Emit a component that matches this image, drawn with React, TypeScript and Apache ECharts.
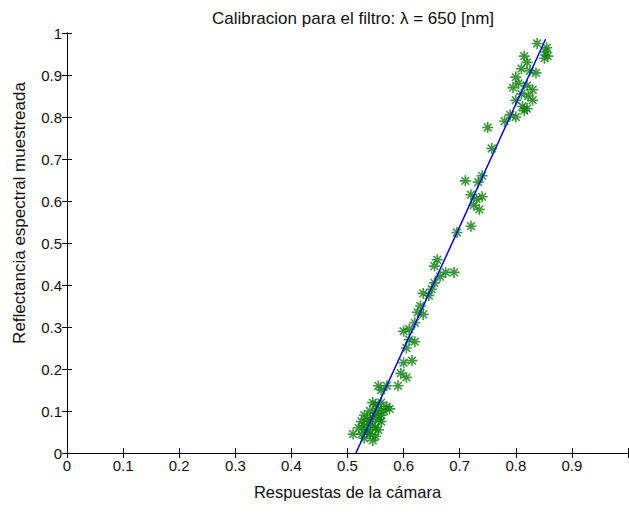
import React, { useEffect, useRef } from "react";
import * as echarts from "echarts";

const titleText = "Calibracion para el filtro: \u03bb = 650 [nm]";
const xLabel = "Respuestas de la c\u00e1mara";
const yLabel = "Reflectancia espectral muestreada";

const xTicks = [0, 0.1, 0.2, 0.3, 0.4, 0.5, 0.6, 0.7, 0.8, 0.9];

const samplesX = [
  0.838, 0.855, 0.853, 0.857, 0.851, 0.815, 0.82, 0.81, 0.825, 0.836,
  0.8, 0.805, 0.82, 0.83, 0.795, 0.81, 0.822, 0.8, 0.83, 0.812,
  0.82, 0.79, 0.8, 0.815, 0.78, 0.75,
  0.757, 0.74, 0.733, 0.71, 0.72, 0.73, 0.74, 0.725, 0.735, 0.72,
  0.695, 0.69, 0.675, 0.66, 0.655, 0.665, 0.655, 0.65, 0.645, 0.635,
  0.63, 0.625, 0.635, 0.62, 0.61, 0.6, 0.61, 0.62, 0.605, 0.615,
  0.6, 0.595, 0.605, 0.59, 0.57, 0.555, 0.56,
  0.57, 0.575, 0.56, 0.55, 0.545, 0.555, 0.54, 0.55, 0.53, 0.545,
  0.535, 0.555, 0.525, 0.54, 0.56, 0.53, 0.545, 0.55, 0.52, 0.535,
  0.555, 0.51, 0.525, 0.54, 0.55, 0.53, 0.545, 0.535, 0.56, 0.565,
];
const samplesY = [
  0.975, 0.965, 0.955, 0.945, 0.94, 0.945, 0.93, 0.915, 0.91, 0.905,
  0.895, 0.88, 0.875, 0.865, 0.87, 0.855, 0.85, 0.84, 0.84, 0.825,
  0.82, 0.805, 0.8, 0.815, 0.79, 0.775,
  0.725, 0.66, 0.645, 0.648, 0.615, 0.605, 0.61, 0.59, 0.58, 0.54,
  0.525, 0.43, 0.43, 0.46, 0.445, 0.42, 0.405, 0.39, 0.375, 0.38,
  0.35, 0.335, 0.33, 0.31, 0.295, 0.29, 0.27, 0.265, 0.25, 0.22,
  0.215, 0.19, 0.18, 0.16, 0.16, 0.16, 0.15,
  0.11, 0.105, 0.12, 0.115, 0.12, 0.105, 0.1, 0.095, 0.09, 0.085,
  0.08, 0.08, 0.075, 0.075, 0.075, 0.065, 0.065, 0.06, 0.06, 0.055,
  0.055, 0.045, 0.045, 0.045, 0.04, 0.035, 0.03, 0.05, 0.09, 0.1,
];

const fitX = [0.515, 0.853];
const fitY = [0, 0.985];

const asterisk =
  "path://M5,0L5,10M0,5L10,5M1.5,1.5L8.5,8.5M1.5,8.5L8.5,1.5";

export default function App() {
  const ref = useRef<HTMLDivElement>(null);
  useEffect(() => {
    if (!ref.current) return;
    const chart = echarts.init(ref.current, null, { renderer: "svg" });
    const font = "Liberation Sans";
    const tickStyle = { color: "#111", fontSize: 15, fontFamily: font };
    const nameStyle = { color: "#111", fontSize: 16.5, fontFamily: font };
    const axisBase = {
      type: "value" as const,
      min: 0,
      max: 1,
      interval: 0.1,
      splitLine: { show: false },
      axisLine: { show: true, lineStyle: { color: "#000", width: 1 } },
      axisTick: { show: true, inside: true, length: 5, lineStyle: { color: "#000" } },
    };
    chart.setOption({
      animation: false,
      backgroundColor: "#fff",
      title: {
        text: titleText,
        left: 348,
        textAlign: "center",
        top: 5,
        textStyle: { color: "#111", fontSize: 17, fontWeight: "normal", fontFamily: font },
      },
      grid: { left: 67, top: 33, right: 1, bottom: 78, containLabel: false },
      graphic: [
        {
          type: "text",
          x: 19,
          y: 213,
          rotation: Math.PI / 2,
          style: {
            text: yLabel,
            fill: "#111",
            font: `17px "${font}"`,
            align: "center",
            verticalAlign: "middle",
          },
        },
      ],
      xAxis: [
        {
          ...axisBase,
          position: "bottom",
          axisLabel: {
            ...tickStyle,
            margin: 5,
            formatter: (v: number) => {
              const hit = xTicks.find((t) => Math.abs(t - v) < 1e-9);
              return hit === undefined ? "" : String(hit);
            },
          },
          name: xLabel,
          nameLocation: "middle",
          nameGap: 30,
          nameTextStyle: { ...nameStyle },
        },
        { ...axisBase, position: "top", axisLabel: { show: false } },
      ],
      yAxis: [
        {
          ...axisBase,
          position: "left",
          axisLabel: { ...tickStyle, margin: 5 },
        },
        { ...axisBase, position: "right", axisLabel: { show: false } },
      ],
      series: [
        {
          type: "scatter",
          data: samplesX.map((x, i) => [x, samplesY[i]]),
          symbol: asterisk,
          symbolSize: 11,
          itemStyle: { color: "none", borderColor: "#0a7f0a", borderWidth: 1.6 },
          z: 2,
        },
        {
          type: "line",
          data: fitX.map((x, i) => [x, fitY[i]]),
          showSymbol: false,
          symbol: "none",
          lineStyle: { color: "#0000ff", width: 1.5 },
          z: 3,
        },
      ],
    });
    return () => chart.dispose();
  }, []);
  return (
    <div
      ref={ref}
      style={{ position: "fixed", left: 0, top: 0, width: 631, height: 531, background: "#fff" }}
    />
  );
}
